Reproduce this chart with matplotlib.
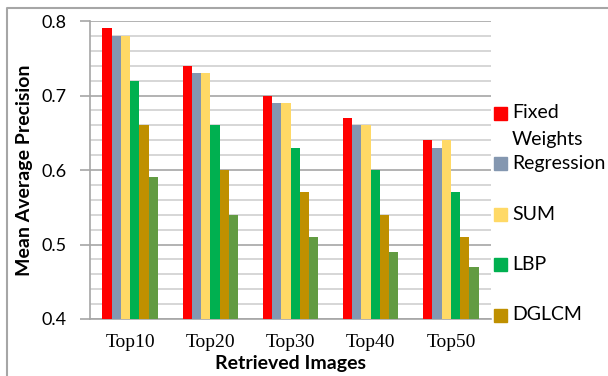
import numpy as np
import matplotlib
matplotlib.use("Agg")
import matplotlib.pyplot as plt
from matplotlib.patches import Rectangle
from matplotlib.lines import Line2D

# data
categories = ["Top10", "Top20", "Top30", "Top40", "Top50"]
fixed_weights = [0.79, 0.74, 0.70, 0.67, 0.64]
regression = [0.78, 0.73, 0.69, 0.66, 0.63]
sum_fusion = [0.78, 0.73, 0.69, 0.66, 0.64]
lbp = [0.72, 0.66, 0.63, 0.60, 0.57]
dglcm = [0.66, 0.60, 0.57, 0.54, 0.51]
sixth = [0.59, 0.54, 0.51, 0.49, 0.47]   # series whose legend entry is cut off

series = [fixed_weights, regression, sum_fusion, lbp, dglcm, sixth]
labels = ["Fixed\nWeights", "Regression", "SUM", "LBP", "DGLCM", None]
colors = ["#FF0000", "#8497B0", "#FFD966", "#00B050", "#BF9000", "#629B42"]

sans = "Lato"
serif = "Liberation Serif"

fig = plt.figure(figsize=(6.08, 3.76), dpi=100)
ax = fig.add_axes([90 / 608, 1 - 319 / 376, 401 / 608, 298 / 376])

x = np.arange(len(categories))
w = 0.115
for i, vals in enumerate(series):
    ax.bar(x + (i - 2.5) * w, vals, width=w, color=colors[i], zorder=3)

ax.set_xlim(-0.5, len(categories) - 0.5)
ax.set_ylim(0.4, 0.8)

# grid: darker at 0.1, lighter at 0.02
ax.set_yticks(np.arange(0.4, 0.81, 0.1))
ax.set_yticks(np.arange(0.4, 0.81, 0.02), minor=True)
ax.yaxis.grid(True, which="minor", color="#D0D0D0", lw=1.2, zorder=0)
ax.yaxis.grid(True, which="major", color="#A6A6A6", lw=1.2, zorder=1)
ax.tick_params(axis="y", which="minor", length=0)
ax.tick_params(axis="y", which="major", length=7, width=1.2, color="#A6A6A6",
               pad=10, labelsize=13)
ax.set_yticklabels(["0.4", "0.5", "0.6", "0.7", "0.8"], fontname=sans)

ax.set_xticks(x)
ax.set_xticklabels(categories, fontname=serif, fontsize=14)
ax.tick_params(axis="x", length=0, pad=11)

for s in ["top", "right"]:
    ax.spines[s].set_visible(False)
for s in ["left", "bottom"]:
    ax.spines[s].set_color("#A6A6A6")
    ax.spines[s].set_linewidth(1.2)

ax.set_xlabel("Retrieved Images", fontname=sans, fontweight="bold",
              fontsize=14, labelpad=3)
ax.set_ylabel("Mean Average Precision", fontname=sans, fontweight="bold",
              fontsize=14, labelpad=6)

# legend drawn by hand, the last entry falls outside the figure
ly0 = 113
step = 50.5
for i, lab in enumerate(labels):
    if lab is None:
        continue
    yc = ly0 + i * step
    fig.add_artist(Rectangle((494 / 608, 1 - (yc + 6.5) / 376), 13 / 608, 13 / 376,
                             transform=fig.transFigure, color=colors[i]))
    for j, line in enumerate(lab.split("\n")):
        fig.text(512 / 608, 1 - (yc + j * 26) / 376, line, fontname=sans,
                 fontsize=14, va="center", ha="left")

# outer frame (top and left edges visible)
fig.add_artist(Line2D([7 / 608, 7 / 608, 1], [0, 1 - 8 / 376, 1 - 8 / 376],
                      transform=fig.transFigure, color="#A6A6A6", lw=1.5))

fig.savefig("out.png", dpi=100)
